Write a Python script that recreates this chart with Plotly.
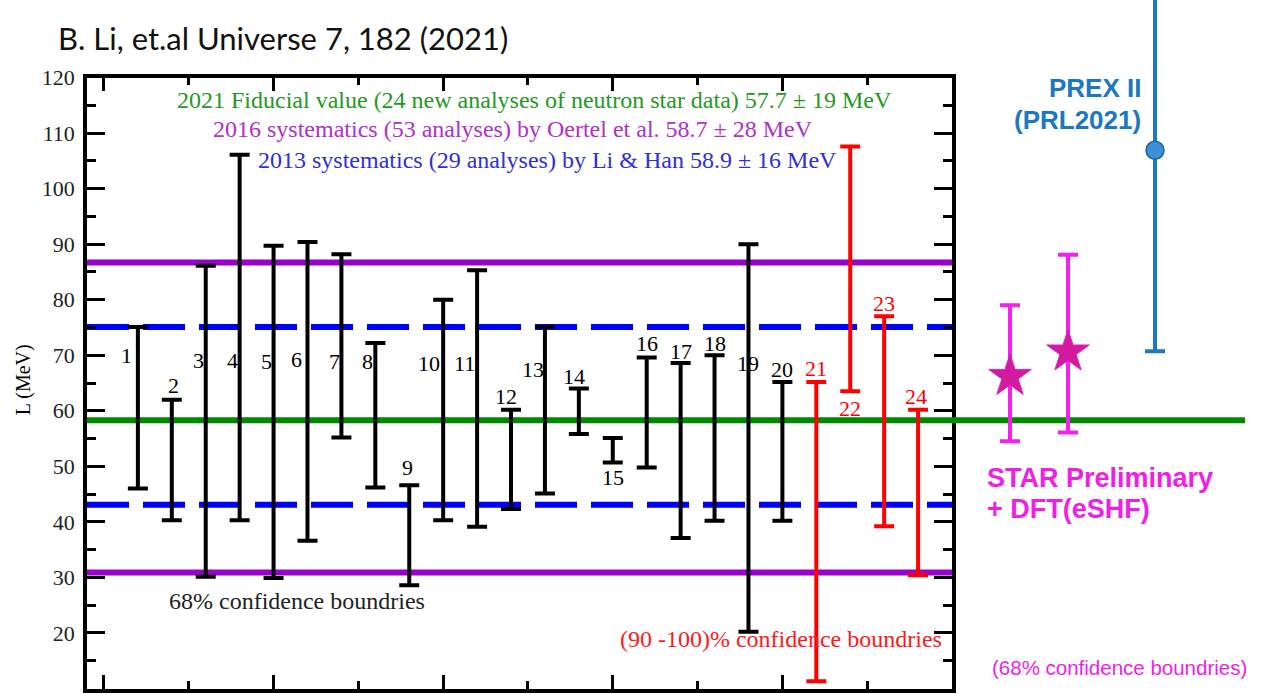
import plotly.graph_objects as go

# ---------------- data ----------------
analysis_ids = list(range(1, 25))
L_upper = [75.1, 62.0, 86.1, 106.1, 89.7, 90.4, 88.2, 72.2, 46.6, 80.0, 85.3, 60.2,
           75.1, 64.0, 55.1, 69.6, 68.6, 70.0, 90.0, 65.2, 65.2, 107.6, 77.0, 60.2]
L_lower = [46.0, 40.3, 30.1, 40.3, 29.9, 36.6, 55.2, 46.2, 28.6, 40.3, 39.1, 42.3,
           45.1, 55.8, 50.7, 49.8, 37.1, 40.2, 20.2, 40.2, 11.3, 63.5, 39.2, 30.4]
confidence = ["68%"] * 20 + ["90-100%"] * 4

fiducial_2021 = 58.3
oertel_2016_bounds = [30.9, 86.7]
lihan_2013_bounds = [43.1, 75.1]

star_pos = [1, 2]
star_center = [66.2, 70.6]
star_lower = [54.5, 56.1]
star_upper = [79.0, 88.1]

prex_pos = [3.5]
prex_center = [106.9]
prex_lower = [70.7]
prex_upper = [143.0]

y_ticks = list(range(10, 121, 10))

# ---------------- layout constants ----------------
W, H = 1266, 694
FX0, FX1 = 87, 952          # frame left/right px
FY_TOP, FY_BOT = 77.5, 688.5  # y(120), y(10) px
px_per_unit = (FY_BOT - FY_TOP) / 110.0
y2_top = 120 + FY_TOP / px_per_unit
x2_units_px = 58.0
x2_range = [0, (W - FX1) / x2_units_px]
green_end_x2 = (1245 - FX1) / x2_units_px

SERIF = "Liberation Serif"
SANS = "Liberation Sans"

# label placement (px offset, data y) for analysis numbers
label_dx = [-11, 2, -7, -7, -7, -11, -7, -8, -2, -14, -13, -5,
            -12, -5, 0, 0, 0, 0, 0, 0, 0, 0, 0, -2]
label_y = [70.0, 64.6, 69.1, 69.1, 68.8, 69.2, 68.8, 68.8, 49.8, 68.6, 68.6, 62.5,
           67.4, 66.1, 48.0, 72.1, 70.6, 72.2, 68.5, 67.4, 67.6, 60.5, 79.4, 62.5]

color_map = {"68%": "black", "90-100%": "#ff0000"}

fig = go.Figure()

# horizontal reference lines (main panel)
for yv in oertel_2016_bounds:
    fig.add_trace(go.Scatter(x=[-1, 50], y=[yv, yv], mode="lines",
                             line=dict(color="#9a00cc", width=6),
                             hoverinfo="skip", showlegend=False))
for yv in lihan_2013_bounds:
    fig.add_trace(go.Scatter(x=[-1, 50], y=[yv, yv], mode="lines",
                             line=dict(color="#0000ff", width=6, dash="42px,14px"),
                             hoverinfo="skip", showlegend=False))
fig.add_trace(go.Scatter(x=[-1, 50], y=[fiducial_2021] * 2, mode="lines",
                         line=dict(color="#008a00", width=6),
                         hoverinfo="skip", showlegend=False))
fig.add_trace(go.Scatter(x=[0, green_end_x2], y=[fiducial_2021] * 2, mode="lines",
                         xaxis="x2", yaxis="y2",
                         line=dict(color="#008a00", width=6),
                         hoverinfo="skip", showlegend=False))

# analyses error bars
for conf in ["68%", "90-100%"]:
    idx = [i for i, c in enumerate(confidence) if c == conf]
    xs = [2 * analysis_ids[i] for i in idx]
    lo = [L_lower[i] for i in idx]
    span = [L_upper[i] - L_lower[i] for i in idx]
    fig.add_trace(go.Scatter(
        x=xs, y=lo, mode="markers",
        marker=dict(size=1, opacity=0),
        error_y=dict(type="data", symmetric=False, array=span,
                     arrayminus=[0] * len(idx), color=color_map[conf],
                     thickness=4, width=10),
        showlegend=False, hoverinfo="skip"))

# STAR points
fig.add_trace(go.Scatter(
    x=star_pos, y=star_center, mode="markers", xaxis="x2", yaxis="y2",
    marker=dict(symbol="star", size=32, color="#d21a9e",
                line=dict(color="#e020c0", width=1)),
    error_y=dict(type="data", symmetric=False,
                 array=[u - c for u, c in zip(star_upper, star_center)],
                 arrayminus=[c - l for c, l in zip(star_center, star_lower)],
                 color="#f61ff0", thickness=4, width=10),
    showlegend=False, hoverinfo="skip"))

# PREX II
fig.add_trace(go.Scatter(
    x=prex_pos, y=prex_center, mode="markers", xaxis="x2", yaxis="y2",
    marker=dict(symbol="circle", size=18, color="#3d8fd6",
                line=dict(color="#1b65a8", width=1.5)),
    error_y=dict(type="data", symmetric=False,
                 array=[u - c for u, c in zip(prex_upper, prex_center)],
                 arrayminus=[c - l for c, l in zip(prex_center, prex_lower)],
                 color="#1f78bd", thickness=4, width=10),
    showlegend=False, hoverinfo="skip"))

annotations = []
# analysis number labels
for i, aid in enumerate(analysis_ids):
    annotations.append(dict(
        x=2 * aid, y=label_y[i], xref="x", yref="y", text=str(aid),
        showarrow=False, xshift=label_dx[i],
        font=dict(family=SERIF, size=22, color=color_map[confidence[i]])))

# caption texts inside plot
annotations += [
    dict(x=25.4, y=116.0, xref="x", yref="y", showarrow=False,
         text="2021 Fiducial value (24 new analyses of neutron star data) 57.7 ± 19 MeV",
         font=dict(family=SERIF, size=24, color="#1f9a1f")),
    dict(x=24.1, y=110.7, xref="x", yref="y", showarrow=False,
         text="2016 systematics (53 analyses) by Oertel et al. 58.7 ± 28 MeV",
         font=dict(family=SERIF, size=24, color="#b030c8")),
    dict(x=26.15, y=105.2, xref="x", yref="y", showarrow=False,
         text="2013 systematics (29 analyses) by Li &amp; Han 58.9 ± 16 MeV",
         font=dict(family=SERIF, size=24, color="#2f2fd8")),
    dict(x=11.4, y=25.8, xref="x", yref="y", showarrow=False,
         text="68% confidence boundries",
         font=dict(family=SERIF, size=24, color="#222222")),
    dict(x=39.9, y=18.9, xref="x", yref="y", showarrow=False,
         text="(90 -100)% confidence boundries",
         font=dict(family=SERIF, size=24, color="#ff1a1a")),
    dict(x=23 / W, y=65.5, xref="paper", yref="y", showarrow=False,
         xanchor="center", yanchor="middle",
         text="L (MeV)", textangle=-90,
         font=dict(family=SERIF, size=20, color="black")),
    # title
    dict(x=56 / W, y=1 - 38 / H, xref="paper", yref="paper", showarrow=False,
         xanchor="left", yanchor="middle",
         text="B. Li, et.al Universe 7, 182 (2021)",
         font=dict(family="Lato", size=31, color="#111111")),
    # right side texts
    dict(x=1143 / W, y=1 - 88 / H, xref="paper", yref="paper", showarrow=False,
         xanchor="right", yanchor="middle", text="<b>PREX II</b>",
         font=dict(family=SANS, size=26, color="#1c78c0")),
    dict(x=1143 / W, y=1 - 120 / H, xref="paper", yref="paper", showarrow=False,
         xanchor="right", yanchor="middle", text="<b>(PRL2021)</b>",
         font=dict(family=SANS, size=26, color="#1c78c0")),
    dict(x=985 / W, y=1 - 478 / H, xref="paper", yref="paper", showarrow=False,
         xanchor="left", yanchor="middle", text="<b>STAR Preliminary</b>",
         font=dict(family=SANS, size=27, color="#f01ee6")),
    dict(x=985 / W, y=1 - 509 / H, xref="paper", yref="paper", showarrow=False,
         xanchor="left", yanchor="middle", text="<b>+ DFT(eSHF)</b>",
         font=dict(family=SANS, size=27, color="#f01ee6")),
    dict(x=990 / W, y=1 - 667 / H, xref="paper", yref="paper", showarrow=False,
         xanchor="left", yanchor="middle", text="(68% confidence boundries)",
         font=dict(family=SANS, size=20.5, color="#f01ee6")),
]

ydom = [(H - FY_BOT) / H, (H - FY_TOP) / H]

fig.update_layout(
    width=W, height=H,
    margin=dict(l=0, r=0, t=0, b=0, pad=0),
    paper_bgcolor="white", plot_bgcolor="white",
    showlegend=False,
    xaxis=dict(domain=[FX0 / W, FX1 / W], range=[-1, 50], automargin=False,
               showgrid=False, zeroline=False, showticklabels=False,
               showline=True, linewidth=3.5, linecolor="black", mirror="ticks",
               ticks="inside", tickvals=[0, 10, 20, 30, 40], ticklen=14,
               tickwidth=2.5, tickcolor="black",
               minor=dict(tickvals=[5, 15, 25, 35, 45], ticks="inside",
                          ticklen=8, tickwidth=2.5, tickcolor="black")),
    yaxis=dict(domain=ydom, range=[10, 120], automargin=False,
               showgrid=False, zeroline=False,
               showline=True, linewidth=3.5, linecolor="black", mirror="ticks",
               ticks="inside", tickvals=y_ticks, ticklen=18,
               tickwidth=2.5, tickcolor="black",
               ticklabelstandoff=4,
               tickfont=dict(family=SERIF, size=22, color="#222222"),
               minor=dict(dtick=5, tick0=5, ticks="inside",
                          ticklen=9, tickwidth=2.5, tickcolor="black")),
    xaxis2=dict(domain=[FX1 / W, 1.0], range=x2_range, visible=False,
                anchor="y2", fixedrange=True, automargin=False),
    yaxis2=dict(domain=[ydom[0], 1.0], range=[10, y2_top], visible=False,
                anchor="x2", fixedrange=True, automargin=False),
    annotations=annotations,
)

fig.write_html(
    "out.html",
    config={"displayModeBar": False},
    post_script="document.body.style.margin='0';document.body.style.overflow='hidden';",
)
